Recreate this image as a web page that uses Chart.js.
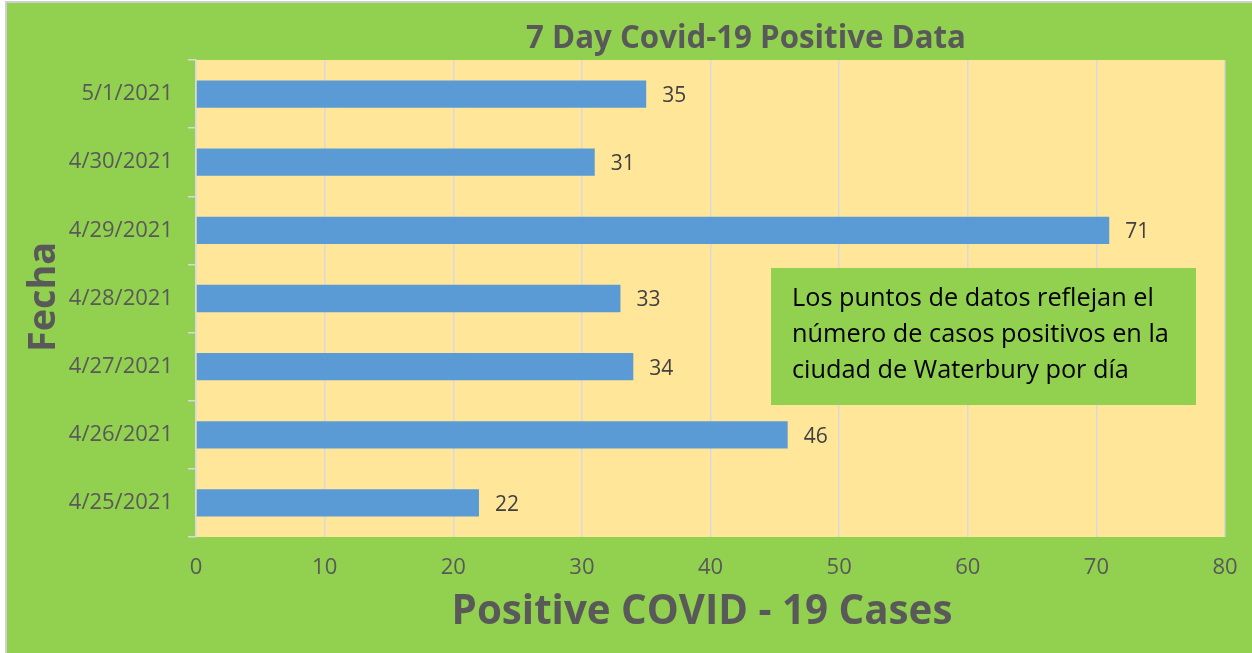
<!DOCTYPE html>
<html><head><meta charset="utf-8">
<script src="https://cdn.jsdelivr.net/npm/chart.js@4"></script>
<style>html,body{margin:0;padding:0;background:#fff;overflow:hidden}canvas{display:block}</style>
</head><body><canvas id="c" width="1252" height="653"></canvas>
<script>
const categories = ['5/1/2021','4/30/2021','4/29/2021','4/28/2021','4/27/2021','4/26/2021','4/25/2021'];
const positiveCases = [35, 31, 71, 33, 34, 46, 22];
const xMin = 0, xMax = 80, xStep = 10;
const chartTitle = '7 Day Covid-19 Positive Data';
const xTitle = 'Positive COVID - 19 Cases';
const yTitle = 'Fecha';
const noteLines = ['Los puntos de datos reflejan el', 'número de casos positivos en la', 'ciudad de Waterbury por día'];

const FONT = "'Open Sans', 'Liberation Sans', sans-serif";
const GREEN = '#92D050', PLOT = '#FFE699', BAR = '#5B9BD5', GRID = '#D9D9D9', TXT = '#595959';
Chart.defaults.font.family = FONT;

function fitSize(ctx, text, weight, targetW) {
  ctx.font = weight + ' 100px ' + FONT;
  return 100 * targetW / ctx.measureText(text).width;
}

const decor = {
  id: 'decor',
  beforeDraw(chart) {
    const ctx = chart.ctx, a = chart.chartArea;
    ctx.save();
    ctx.fillStyle = '#ffffff';
    ctx.fillRect(0, 0, chart.width, chart.height);
    ctx.fillStyle = GREEN;
    ctx.fillRect(7, 3, chart.width - 7, chart.height - 3);
    ctx.fillStyle = '#D0D0D0';
    ctx.fillRect(5, 1, chart.width - 5, 2);
    ctx.fillRect(5, 1, 2, chart.height - 1);
    ctx.fillStyle = PLOT;
    ctx.fillRect(a.left, a.top, a.right - a.left, a.bottom - a.top);
    ctx.restore();
  },
  afterDatasetsDraw(chart) {
    const ctx = chart.ctx;
    const meta = chart.getDatasetMeta(0);
    ctx.save();
    ctx.font = '21px ' + FONT;
    ctx.fillStyle = '#404040';
    ctx.textBaseline = 'middle';
    ctx.textAlign = 'left';
    meta.data.forEach((bar, i) => {
      ctx.fillText(String(positiveCases[i]), bar.x + 16, bar.y + 2);
    });
    ctx.restore();
  },
  afterDraw(chart) {
    const ctx = chart.ctx;
    ctx.save();
    ctx.fillStyle = TXT;
    ctx.textBaseline = 'alphabetic';
    let s = fitSize(ctx, chartTitle, 'bold', 440);
    ctx.font = 'bold ' + s + 'px ' + FONT;
    ctx.textAlign = 'center';
    ctx.fillText(chartTitle, 746, 48);
    s = fitSize(ctx, xTitle, 'bold', 501);
    ctx.font = 'bold ' + s + 'px ' + FONT;
    ctx.fillText(xTitle, 702, 624);
    s = fitSize(ctx, yTitle, 'bold', 110);
    ctx.font = 'bold ' + s + 'px ' + FONT;
    ctx.translate(55, 297);
    ctx.rotate(-Math.PI / 2);
    ctx.fillText(yTitle, 0, 0);
    ctx.restore();
    ctx.save();
    ctx.fillStyle = GREEN;
    ctx.fillRect(771, 268, 425, 137);
    s = fitSize(ctx, noteLines[0], 'normal', 362);
    ctx.font = s + 'px ' + FONT;
    ctx.fillStyle = '#000000';
    ctx.textAlign = 'left';
    ctx.textBaseline = 'alphabetic';
    noteLines.forEach((t, i) => ctx.fillText(t, 792, 306 + i * 36));
    ctx.restore();
  }
};

new Chart(document.getElementById('c'), {
  type: 'bar',
  data: {
    labels: categories,
    datasets: [{
      data: positiveCases,
      backgroundColor: BAR,
      borderWidth: 0,
      categoryPercentage: 1,
      barPercentage: 0.4
    }]
  },
  options: {
    indexAxis: 'y',
    responsive: false,
    animation: false,
    layout: { padding: { top: 60, right: 27, left: 0, bottom: 0 } },
    plugins: { legend: { display: false }, title: { display: false }, tooltip: { enabled: false } },
    scales: {
      x: {
        min: xMin, max: xMax,
        ticks: { stepSize: xStep, color: TXT, font: { size: 22 }, padding: 18 },
        grid: { color: GRID, lineWidth: 1.5, drawTicks: false },
        border: { display: false },
        afterFit(scale) { scale.height = 116; scale.paddingLeft = 0; scale.paddingRight = 0; }
      },
      y: {
        ticks: { color: TXT, font: { size: 22 }, padding: 15 },
        grid: { offset: true, drawOnChartArea: false, color: GRID, lineWidth: 1.5, tickLength: 8 },
        border: { display: true, color: GRID, width: 1.5 },
        afterFit(scale) { scale.width = 196; scale.paddingTop = 0; scale.paddingBottom = 0; }
      }
    }
  },
  plugins: [decor]
});
</script>
</body></html>
